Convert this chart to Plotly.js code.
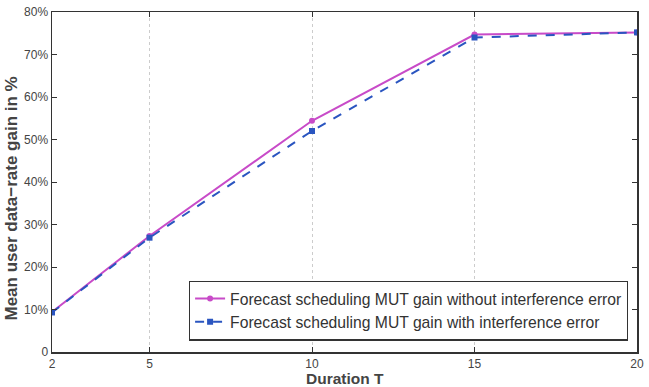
<!DOCTYPE html>
<html><head><meta charset="utf-8">
<script src="https://cdn.plot.ly/plotly-3.0.1.min.js"></script>
<style>body{margin:0;background:#fff}#chart{width:649px;height:387px}</style>
</head><body><div id="chart"></div>
<script>
var durations = [2, 5, 10, 15, 20];
var gainWithoutError = [9.4, 27.3, 54.4, 74.7, 75.2];
var gainWithError = [9.3, 26.9, 52.0, 74.0, 75.2];
var seriesNames = ['Forecast scheduling MUT gain without interference error', 'Forecast scheduling MUT gain with interference error'];
var yTickVals = [0, 10, 20, 30, 40, 50, 60, 70, 80];
var yTickText = ['0', '10%', '20%', '30%', '40%', '50%', '60%', '70%', '80%'];
var xTickVals = [2, 5, 10, 15, 20];
var xTitle = 'Duration T';
var yTitle = 'Mean user data\u2212rate gain in %';

var traces = [
  {x: durations, y: gainWithoutError, name: seriesNames[0], mode: 'lines+markers',
   line: {color: '#c84bc8', width: 2}, marker: {symbol: 'circle', size: 6, color: '#c84bc8'}},
  {x: durations, y: gainWithError, name: seriesNames[1], mode: 'lines+markers',
   line: {color: '#2a55c0', width: 2, dash: 'dash'}, marker: {symbol: 'square', size: 6, color: '#2a55c0'}}
];
var layout = {
  width: 649, height: 387,
  margin: {l: 51.5, r: 12, t: 12, b: 35},
  paper_bgcolor: '#fff', plot_bgcolor: '#fff',
  font: {family: 'Liberation Sans, Arial, sans-serif', size: 12, color: '#444'},
  showlegend: true,
  legend: {x: 0.234, y: 0.122, xanchor: 'left', yanchor: 'middle', bgcolor: '#fff',
    bordercolor: '#333', borderwidth: 1.2, font: {size: 15.7, color: '#333'},
    tracegroupgap: 0, itemwidth: 30},
  xaxis: {range: [2, 20], tickvals: xTickVals, ticks: 'inside', ticklen: 5, tickcolor: '#333',
    showline: true, linecolor: '#333', linewidth: 1.5, mirror: 'ticks',
    showgrid: true, gridcolor: '#cccccc', griddash: 'dot', gridwidth: 1, zeroline: false},
  yaxis: {range: [0, 80], tickvals: yTickVals, ticktext: yTickText, ticks: 'inside', ticklen: 5, tickcolor: '#333',
    showline: true, linecolor: '#333', linewidth: 1.5, mirror: 'ticks',
    showgrid: false, zeroline: false},
  annotations: [
    {text: yTitle, textangle: -90, xref: 'paper', yref: 'paper', borderpad: 0,
     x: (10 - 51.5) / 585.5, y: (352 - 199) / 340, xanchor: 'center', yanchor: 'middle', showarrow: false,
     font: {size: 17, color: '#444', weight: 'bold'}},
    {text: xTitle, xref: 'paper', yref: 'paper', borderpad: 0,
     x: 0.5, y: (352 - 378.5) / 340, xanchor: 'center', yanchor: 'middle', showarrow: false,
     font: {size: 15.5, color: '#444', weight: 'bold'}}
  ]
};
Plotly.newPlot('chart', traces, layout, {displayModeBar: false, staticPlot: true});
</script></body></html>
